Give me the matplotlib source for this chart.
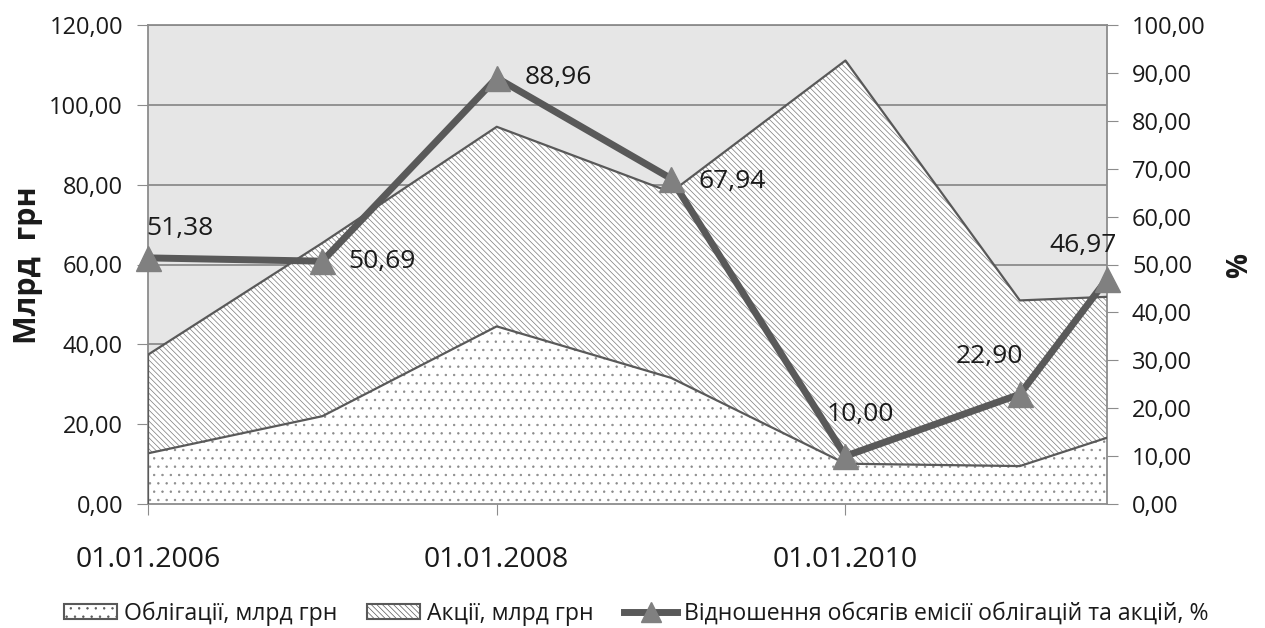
import numpy as np
import matplotlib
matplotlib.use('Agg')
import matplotlib.pyplot as plt
from matplotlib.patches import Patch
from matplotlib.lines import Line2D
from matplotlib.ticker import FuncFormatter

# дані (читаються з графіка)
years = [2006, 2007, 2008, 2009, 2010, 2011, 2011.5]
bonds = [12.7, 22.0, 44.5, 31.6, 10.1, 9.5, 16.6]      # облігації, млрд грн
stocks = [24.7, 43.4, 50.0, 46.5, 101.0, 41.5, 35.3]   # акції, млрд грн
ratio = [51.38, 50.69, 88.96, 67.94, 10.00, 22.90, 46.97]
tick_years = [2006, 2008, 2010]
tick_labels = ['01.01.2006', '01.01.2008', '01.01.2010']

# зміщення підписів даних (pt) та вирівнювання
lbl_off = [(23, 21, 'center'), (19, 0, 'left'), (20, 0, 'left'), (20, -2, 'left'),
           (11, 30, 'center'), (-22, 27, 'center'), (-17, 24, 'center')]

plt.rcParams['font.family'] = ['Open Sans', 'DejaVu Sans']
plt.rcParams['hatch.linewidth'] = 0.5
txt = '#1a1a1a'
axc = '#8c8c8c'

fig = plt.figure(figsize=(12.65, 6.28), dpi=100)
ax = fig.add_axes([148/1265, 1-504/628, (1107-148)/1265, (504-25)/628])
ax.set_facecolor('#e6e6e6')

x = np.array(years)
b = np.array(bonds)
tot = b + np.array(stocks)

ax.fill_between(x, 0, b, facecolor='white', edgecolor='#8a8a8a', hatch='..', lw=0, zorder=2)
ax.fill_between(x, b, tot, facecolor='white', edgecolor='#7a7a7a', hatch='\\\\\\\\\\\\', lw=0, zorder=2)
ax.plot(x, b, color='#595959', lw=1.6, zorder=3)
ax.plot(x, tot, color='#595959', lw=1.6, zorder=3)
ax.plot([x[0], x[0]], [0, tot[0]], color='#595959', lw=1.6, zorder=3)

ax.set_xlim(years[0], years[-1])
ax.set_ylim(0, 120)
ax.set_yticks(np.arange(0, 121, 20))
ax.yaxis.set_major_formatter(FuncFormatter(lambda v, p: f'{v:.2f}'.replace('.', ',')))
ax.grid(axis='y', color=axc, lw=1.3, zorder=1)
ax.set_axisbelow(True)
ax.set_xticks(tick_years)
ax.set_xticklabels(tick_labels)
ax.tick_params(axis='x', length=8, color=axc, labelsize=20.5, pad=22, labelcolor=txt)
ax.tick_params(axis='y', length=8, color=axc, labelsize=17, pad=10, labelcolor=txt)
for s in ax.spines.values():
    s.set_color(axc)
    s.set_linewidth(1.3)

ax2 = ax.twinx()
ax2.set_ylim(0, 100)
ax2.set_yticks(np.arange(0, 101, 10))
ax2.yaxis.set_major_formatter(FuncFormatter(lambda v, p: f'{v:.2f}'.replace('.', ',')))
ax2.tick_params(axis='y', length=8, color=axc, labelsize=17, pad=10, labelcolor=txt)
for s in ax2.spines.values():
    s.set_visible(False)

ax2.plot(x, ratio, color='#595959', lw=5, marker='^', markersize=18,
         markerfacecolor='#808080', markeredgecolor='#808080', clip_on=False, zorder=5)
for xi, r, (dx, dy, ha) in zip(x, ratio, lbl_off):
    ax2.annotate(f'{r:.2f}'.replace('.', ','), (xi, r), xytext=(dx, dy),
                 textcoords='offset points', ha=ha, va='center', fontsize=19, color=txt,
                 annotation_clip=False)

fig.text(28/1265, 1-265/628, 'Млрд  грн', rotation=90, ha='center', va='center',
         fontsize=22, fontweight='bold', color=txt)
fig.text(1240/1265, 1-265/628, '%', rotation=90, ha='center', va='center',
         fontsize=20, fontweight='bold', color=txt)

handles = [Patch(facecolor='white', edgecolor='#595959', hatch='..', lw=1.5),
           Patch(facecolor='white', edgecolor='#595959', hatch='\\\\\\\\\\\\', lw=1.5),
           Line2D([], [], color='#595959', lw=5, marker='^', markersize=14,
                  markerfacecolor='#808080', markeredgecolor='#808080')]
names = ['Облігації, млрд грн', 'Акції, млрд грн',
         'Відношення обсягів емісії облігацій та акцій, %']
fig.legend(handles, names, loc='lower center', bbox_to_anchor=(0.503, -0.022), ncol=3,
           frameon=False, fontsize=16.6, handlelength=2.3, handleheight=0.65,
           handletextpad=0.3, columnspacing=1.3, borderpad=0.2, labelcolor=txt)

fig.savefig('out.png', dpi=100)
